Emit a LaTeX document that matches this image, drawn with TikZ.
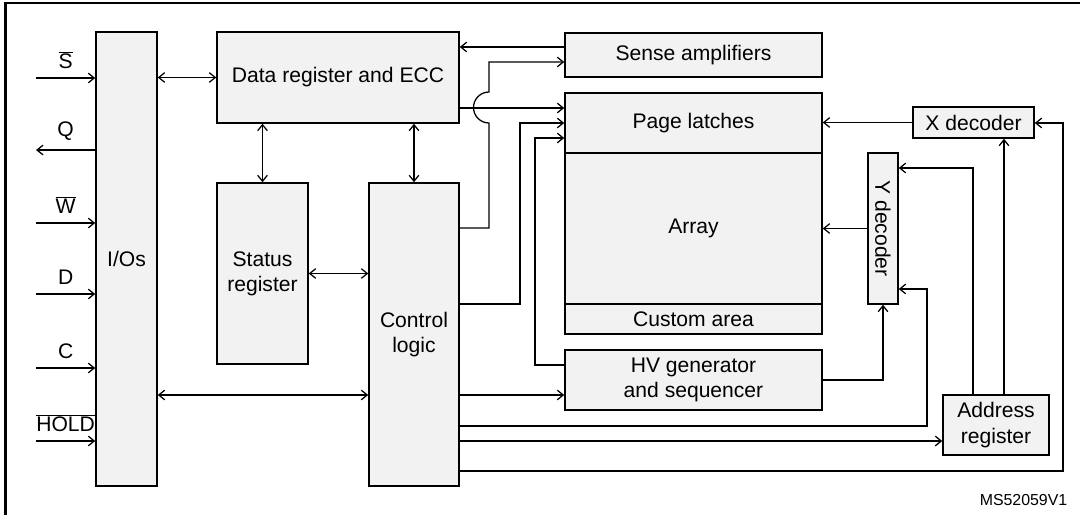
\documentclass[tikz,border=0pt]{standalone}
\usepackage{fontspec}
\setmainfont{Liberation Sans}
\usetikzlibrary{arrows.meta}
\usepackage{xcolor}
\definecolor{blockfill}{RGB}{242,242,242}
\def\px{0.025cm}

\begin{document}
\begin{tikzpicture}[x=\px, y=-\px, line width=0.9pt, >={Straight Barb[length=1.5mm,width=2.4mm]}]
    \tikzstyle{every node}=[font=\fontsize{15}{18}\selectfont]
    \tikzstyle{block}=[draw, fill=blockfill, line width=1pt, inner sep=0pt, align=center]
    \tikzstyle{sig}=[above=6pt, inner sep=0pt]

    \useasboundingbox (0,0) rectangle (1080,515);
    % outer frame (only top and left show)
    \draw[line width=1.6pt] (5.5,515) -- (5.5,3) -- (1080,3);

    % Draw the blocks
    \node[block, minimum width=61*\px, minimum height=454*\px] (io) at (126.5,259) {I/Os};
    \node[block, minimum width=242*\px, minimum height=91*\px] (datareg) at (338,77.5) {Data register and ECC};
    \node[block, minimum width=91*\px, minimum height=181*\px] (status) at (262.5,273.5) {Status\\register};
    \node[block, minimum width=90*\px, minimum height=303*\px] (ctrl) at (414,334.5) {Control\\logic};

    \node[block, minimum width=257*\px, minimum height=44*\px] (sense) at (693.5,55) {Sense amplifiers};
    \node[block, minimum width=257*\px, minimum height=60*\px] (latch) at (693.5,123) {Page latches};
    \node[block, minimum width=257*\px, minimum height=151*\px] (array) at (693.5,228.5) {Array};
    \node[block, minimum width=257*\px, minimum height=30*\px] (custom) at (693.5,319) {Custom area};
    \node[block, minimum width=257*\px, minimum height=60*\px] (hv) at (693.5,380) {HV generator\\and sequencer};

    \node[block, minimum width=121*\px, minimum height=31*\px] (xdec) at (973.5,122.5) {X decoder};
    \node[block, minimum width=30*\px, minimum height=151*\px] (ydec) at (883,228.5) {\rotatebox{-90}{Y decoder}};
    \node[block, minimum width=106*\px, minimum height=60*\px] (addr) at (996,425) {Address\\register};

    % Pins of the I/Os
    \coordinate (s-in) at (36,78);
    \coordinate (q-out) at (36,150);
    \coordinate (w-in) at (36,223);
    \coordinate (d-in) at (36,294);
    \coordinate (c-in) at (36,368);
    \coordinate (hold-in) at (36,441);
    \draw[->] (s-in) -- node[sig] (s-lab) {$\overline{\mbox{S}}$} (s-in -| io.west);
    \draw[->] (q-out -| io.west) -- node[sig] (q-lab) {Q} (q-out);
    \draw[->] (w-in) -- node[sig] (w-lab) {$\overline{\mbox{W}}$} (w-in -| io.west);
    \draw[->] (d-in) -- node[sig] (d-lab) {D} (d-in -| io.west);
    \draw[->] (c-in) -- node[sig] (c-lab) {C} (c-in -| io.west);
    \draw[->] (hold-in) -- node[sig] (hold-lab) {$\overline{\mbox{HOLD}}$} (hold-in -| io.west);

    % Data paths
    \draw[<->] (io.east |- datareg.west) -- (datareg.west);
    \draw[<->] (datareg.south -| status.north) -- (status.north);
    \draw[<->] (datareg.south -| ctrl.north) -- (ctrl.north);
    \draw[<->] (status.east) -- (status.east -| ctrl.west);
    \draw[<->] (io.east |- 0,395) -- (ctrl.west |- 0,395);
    \draw[->] (sense.west |- 0,47) -- (datareg.east |- 0,47);
    \draw[->] (datareg.east |- 0,108) -- (latch.west |- 0,108);

    % Control logic outputs
    \draw[->] (ctrl.east |- 0,228) -| (489,123) arc[start angle=270, end angle=90, radius=15.5*\px] -- (489,62) -- (sense.west |- 0,62);
    \draw[->] (ctrl.east |- 0,304) -| (520,123) -- (latch.west);
    \draw[->] (ctrl.east |- 0,395) -- (hv.west |- 0,395);
    \draw[->] (ctrl.east |- 0,426) -| (927,289) -- (ydec.east |- 0,289);
    \draw[->] (ctrl.east |- 0,441) -- (addr.west |- 0,441);
    \draw[->] (ctrl.east |- 0,471) -| (1063,123) -- (xdec.east |- 0,123);

    % Decoders and HV
    \draw[->] (hv.west |- 0,365) -| (535,138) -- (latch.west |- 0,138);
    \draw[->] (hv.east) -| (ydec.south);
    \draw[->] (addr.north -| 1004,0) -- (xdec.south -| 1004,0);
    \draw[->] (addr.north -| 973,0) |- (ydec.east |- 0,168);
    \draw[->] (ydec.west) -- (ydec.west -| array.east);
    \draw[->] (xdec.west) -- (xdec.west -| latch.east);

    \node[font=\fontsize{11.3}{13}\selectfont] (ms-id) at (1023.5,500) {MS52059V1};
\end{tikzpicture}
\end{document}
